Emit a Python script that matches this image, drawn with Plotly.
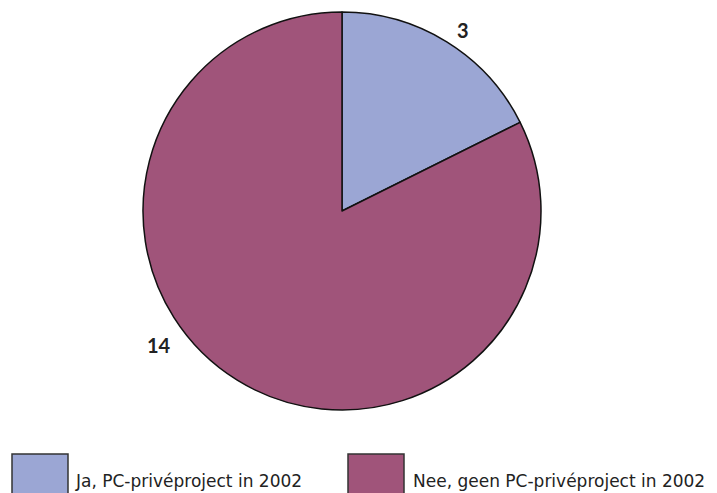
import plotly.graph_objects as go

categories = ["Ja, PC-privéproject in 2002", "Nee, geen PC-privéproject in 2002"]
values = [3, 14]
colors = ["#9BA6D4", "#A0547A"]

W, H = 717, 493
OFF = 8  # page body margin offset in the browser
cx, cy, r = 342 - OFF, 211 - OFF, 199

fig = go.Figure(go.Pie(
    labels=categories,
    values=values,
    sort=False,
    direction="clockwise",
    rotation=0,
    marker=dict(colors=colors, line=dict(color="#111111", width=1.5)),
    textinfo="none",
    hoverinfo="label+value",
    showlegend=False,
    domain=dict(x=[(cx - r) / W, (cx + r) / W], y=[(H - cy - r) / H, (H - cy + r) / H]),
))

# value labels (placed like the reference)
label_pos = [(463, 30), (159, 345)]
annotations = []
for v, (lx, ly) in zip(values, label_pos):
    annotations.append(dict(
        text=f"<b>{v}</b>", x=(lx - OFF) / W, y=(H - (ly - OFF)) / H, xref="paper", yref="paper",
        showarrow=False, font=dict(family="Lato", size=20, color="#222222"),
        xanchor="center", yanchor="middle"))

# custom legend
box_x = [(12, 68), (348, 404)]
text_x = [73, 411]
shapes = []
for (x0, x1), tx, name, col in zip(box_x, text_x, categories, colors):
    shapes.append(dict(type="rect", xref="paper", yref="paper",
                       x0=(x0 - OFF) / W, x1=(x1 - OFF) / W, y0=-0.05, y1=(H - (454 - OFF)) / H,
                       fillcolor=col, line=dict(color="#333333", width=1.5)))
    annotations.append(dict(text=name, x=(tx - OFF) / W, y=(H - (481 - OFF)) / H,
                            xref="paper", yref="paper",
                            showarrow=False, xanchor="left", yanchor="middle",
                            font=dict(family="DejaVu Sans", size=17, color="#222222")))

fig.update_layout(
    width=W, height=H,
    margin=dict(l=0, r=0, t=0, b=0),
    paper_bgcolor="white", plot_bgcolor="white",
    annotations=annotations, shapes=shapes,
)

fig.write_html("out.html")
